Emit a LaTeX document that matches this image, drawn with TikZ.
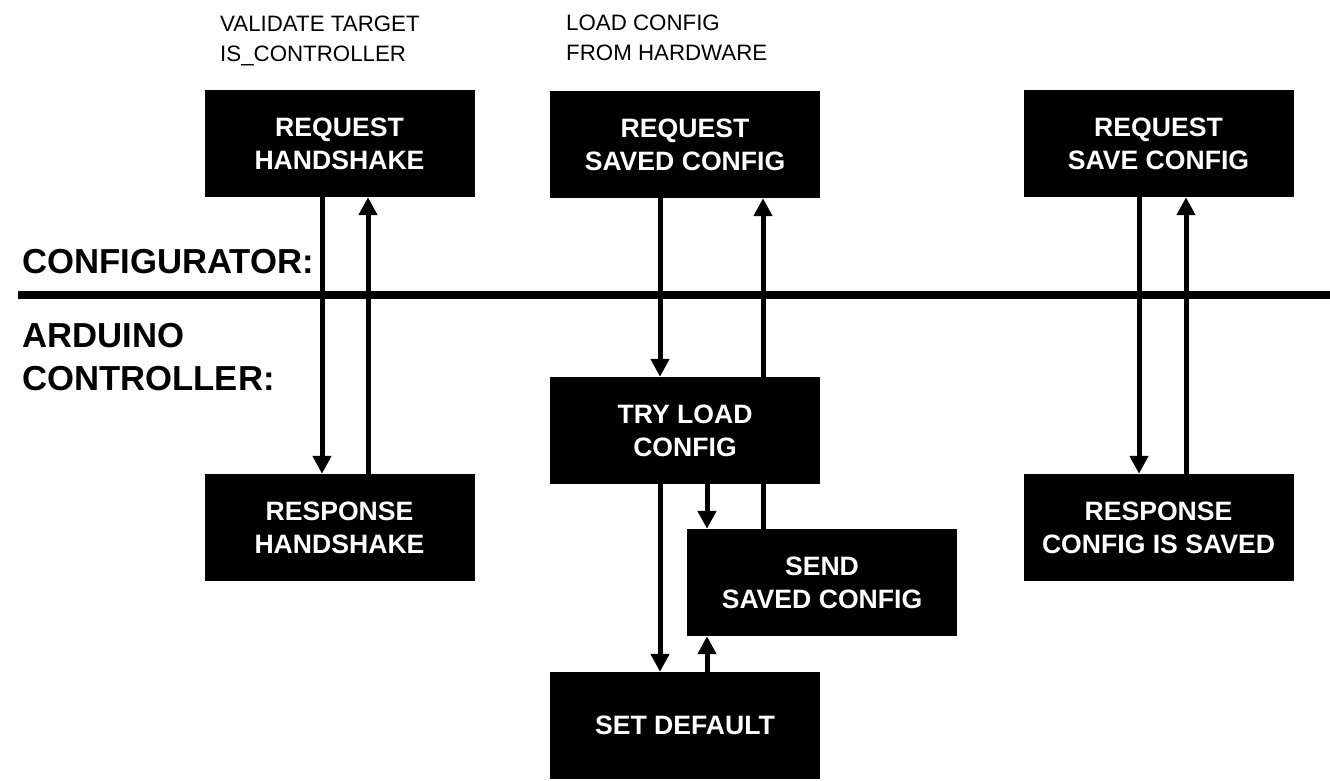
\documentclass[tikz,border=0pt]{standalone}
\usepackage{fontspec}
\setmainfont{Liberation Sans}
\usetikzlibrary{arrows.meta,positioning}

\tikzset{
  stepbox/.style={fill=black, text=white, minimum width=270pt, minimum height=107pt,
    inner sep=0pt, align=center, font=\bfseries\fontsize{26.6}{33}\selectfont},
  flow/.style={line width=5pt, -{Triangle[width=18pt,length=18pt]}},
  lane/.style={anchor=base west, inner sep=0pt, font=\bfseries\fontsize{34.7}{40}\selectfont},
  note/.style={anchor=base west, inner sep=0pt, font=\fontsize{22.3}{30}\selectfont}
}

\begin{document}
\begin{tikzpicture}[x=1pt, y=-1pt]
\useasboundingbox (0,0) rectangle (1330,780);

% Lanes
\draw[line width=8pt] (18,295) -- (1330,295);
\node[lane] (cfglabel) at (22,273) {CONFIGURATOR:};
\node[lane] (ardlabel) at (22,347) {ARDUINO};
\node[lane] (ctllabel) at (22,390) {CONTROLLER:};

% Notes
\node[note] (validate) at (220,31) {VALIDATE TARGET};
\node[note] (iscontrol) at (220,61) {IS\_CONTROLLER};
\node[note] (loadcfg) at (566,30) {LOAD CONFIG};
\node[note] (fromhw) at (566,60) {FROM HARDWARE};

% Boxes
\node[stepbox] (reqhs) at (339.5,143.5) {REQUEST\\HANDSHAKE};
\node[stepbox] (reqsaved) at (685,144.5) {REQUEST\\SAVED CONFIG};
\node[stepbox] (reqsave) at (1158.5,143.5) {REQUEST\\SAVE CONFIG};
\node[stepbox] (resphs) at (339.5,527.5) {RESPONSE\\HANDSHAKE};
\node[stepbox] (tryload) at (685,430.5) {TRY LOAD\\CONFIG};
\node[stepbox] (sendcfg) at (822,582.5) {SEND\\SAVED CONFIG};
\node[stepbox] (setdef) at (685,725.5) {SET DEFAULT};
\node[stepbox] (respsave) at (1158.5,527.5) {RESPONSE\\CONFIG IS SAVED};

% Handshake
\draw[flow] ([xshift=-17.5pt]reqhs.south) -- ([xshift=-17.5pt]resphs.north);
\draw[flow] ([xshift=28.5pt]resphs.north) -- ([xshift=28.5pt]reqhs.south);

% Saved config
\draw[flow] ([xshift=-25pt]reqsaved.south) -- ([xshift=-25pt]tryload.north);
\draw[flow] ([xshift=-59pt]sendcfg.north) -- ([xshift=78pt]reqsaved.south);
\draw[flow] ([xshift=22pt]tryload.south) -- ([xshift=-115pt]sendcfg.north);
\draw[flow] ([xshift=-25pt]tryload.south) -- ([xshift=-25pt]setdef.north);
\draw[flow] ([xshift=22pt]setdef.north) -- ([xshift=-115pt]sendcfg.south);

% Save config
\draw[flow] ([xshift=-19.5pt]reqsave.south) -- ([xshift=-19.5pt]respsave.north);
\draw[flow] ([xshift=27.5pt]respsave.north) -- ([xshift=27.5pt]reqsave.south);
\end{tikzpicture}
\end{document}
